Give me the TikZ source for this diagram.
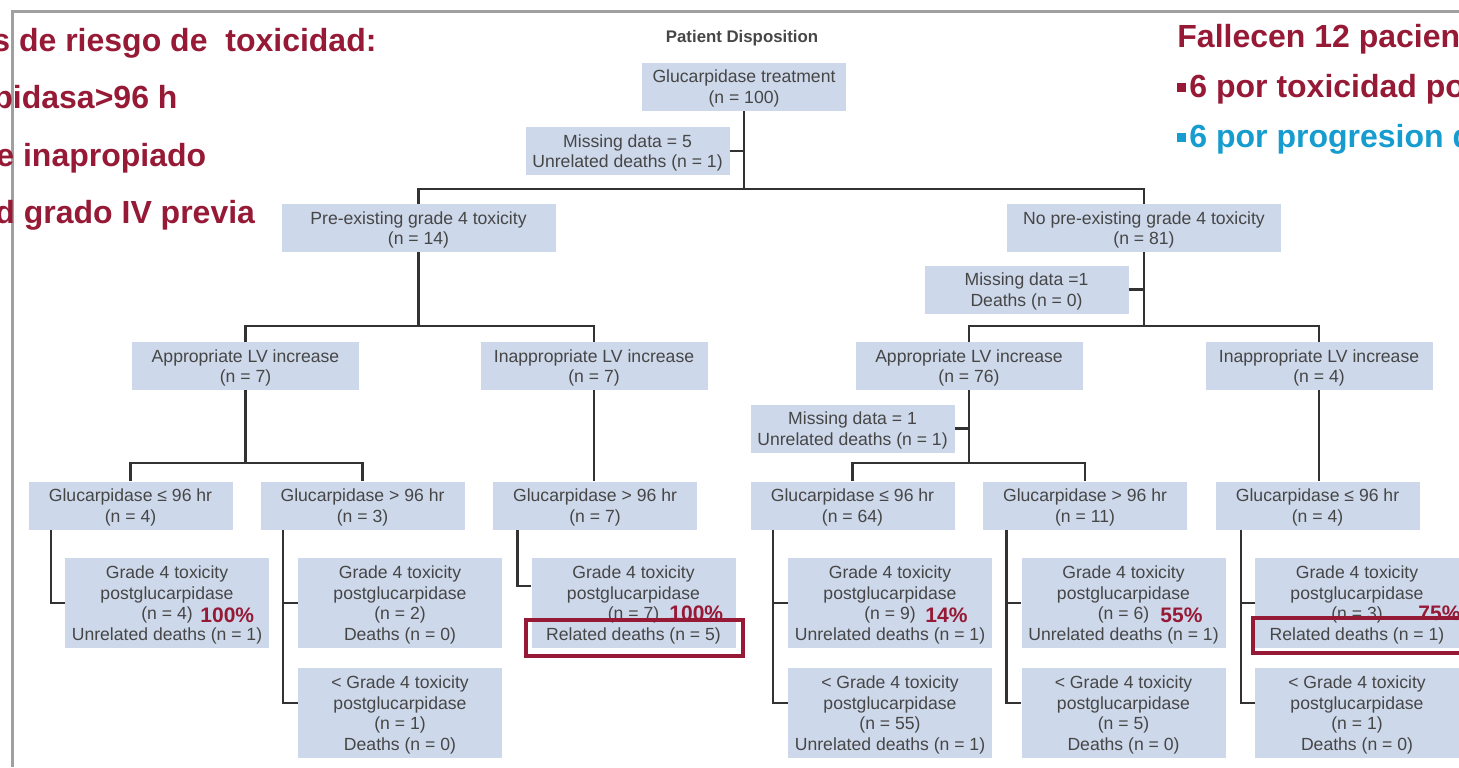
\documentclass[tikz,border=0pt]{standalone}
\usepackage{fontspec}
\setmainfont{Liberation Sans}
\usetikzlibrary{positioning,calc}

\definecolor{boxblue}{RGB}{205,216,234}
\definecolor{boxtext}{RGB}{70,70,70}
\definecolor{linegray}{RGB}{50,50,50}
\definecolor{framegray}{RGB}{160,160,160}
\definecolor{redtxt}{RGB}{150,26,54}
\definecolor{bluetxt}{RGB}{22,156,206}

\newcommand{\sqbullet}[1]{{\color{#1}\rule[2.5pt]{4.5pt}{4.5pt}}\hspace{1.5pt}}

\begin{document}
\begin{tikzpicture}[x=0.5pt,y=-0.5pt,
  box/.style={fill=boxblue,text=boxtext,inner sep=0pt,align=center,text depth=-2pt,
    minimum width=102pt,minimum height=24pt,font=\fontsize{8.8}{10.3}\selectfont},
  wide/.style={box,minimum width=137pt},
  mid/.style={box,minimum width=113.5pt},
  tall/.style={box,minimum height=45pt},
  conn/.style={draw=linegray,line width=1.3pt},
  big/.style={anchor=base west,inner sep=0pt,font=\bfseries\fontsize{16}{19}\selectfont},
  pct/.style={anchor=base west,inner sep=0pt,text=redtxt,font=\bfseries\fontsize{10.5}{12}\selectfont},
  redbox/.style={draw=redtxt,line width=2pt}]
  \useasboundingbox (0,0) rectangle (1459,767);
  \clip (0,0) rectangle (1459,767);
  % frame
  \draw[framegray,line width=1.5pt] (12,767) -- (12,11) -- (1459,11);
  % slide texts
  \node[big,text=redtxt] (riskA) at (-8,51) {s de riesgo de\ \ toxicidad:};
  \node[big,text=redtxt] (riskB) at (-7,108) {pidasa>96 h};
  \node[big,text=redtxt] (riskC) at (-4,166) {e inapropiado};
  \node[big,text=redtxt] (riskD) at (-5,223) {d grado IV previa};
  \node[big,text=redtxt] (deadA) at (1177,47) {Fallecen 12 pacien};
  \node[big,text=redtxt] (deadB) at (1177,97) {\sqbullet{redtxt}6 por toxicidad po};
  \node[big,text=bluetxt] (deadC) at (1177,147) {\sqbullet{bluetxt}6 por progresion d};

  \node[text=boxtext,font=\bfseries\fontsize{8.4}{10}\selectfont] (title) at (742,38) {Patient Disposition};
  \node[box] (treat) at (744,86.5) {Glucarpidase treatment\\(n = 100)};
  \node[box] (miss) at (627.5,151) {Missing data = 5\\Unrelated deaths (n = 1)};
  \node[wide] (pre) at (418.5,228) {Pre-existing grade 4 toxicity\\(n = 14)};
  \node[wide] (nopre) at (1144,228) {No pre-existing grade 4 toxicity\\(n = 81)};
  \node[box] (missb) at (1026.5,289.5) {Missing data =1\\Deaths (n = 0)};
  \node[mid] (apA) at (245.5,366) {Appropriate LV increase\\(n = 7)};
  \node[mid] (inA) at (594,366) {Inappropriate LV increase\\(n = 7)};
  \node[mid] (apB) at (969,366) {Appropriate LV increase\\(n = 76)};
  \node[mid] (inB) at (1319,366) {Inappropriate LV increase\\(n = 4)};
  \node[box] (missc) at (852.5,428.5) {Missing data = 1\\Unrelated deaths (n = 1)};

  \node[box] (gA1) at (130.5,505.5) {Glucarpidase ≤ 96 hr\\(n = 4)};
  \node[box] (gA2) at (362.5,505.5) {Glucarpidase > 96 hr\\(n = 3)};
  \node[box] (gA3) at (595,505.5) {Glucarpidase > 96 hr\\(n = 7)};
  \node[box] (gB1) at (852.5,505.5) {Glucarpidase ≤ 96 hr\\(n = 64)};
  \node[box] (gB2) at (1085,505.5) {Glucarpidase > 96 hr\\(n = 11)};
  \node[box] (gB3) at (1317.5,505.5) {Glucarpidase ≤ 96 hr\\(n = 4)};

  \node[tall] (rA1) at (167,603) {Grade 4 toxicity\\postglucarpidase\\(n = 4)\\Unrelated deaths (n = 1)};
  \node[tall] (rA2) at (400,603) {Grade 4 toxicity\\postglucarpidase\\(n = 2)\\Deaths (n = 0)};
  \node[tall] (rA3) at (400,713) {< Grade 4 toxicity\\postglucarpidase\\(n = 1)\\Deaths (n = 0)};
  \node[tall] (rA4) at (633.5,603) {Grade 4 toxicity\\postglucarpidase\\(n = 7)\\Related deaths (n = 5)};
  \node[tall] (rB1) at (890,603) {Grade 4 toxicity\\postglucarpidase\\(n = 9)\\Unrelated deaths (n = 1)};
  \node[tall] (rB2) at (890,713) {< Grade 4 toxicity\\postglucarpidase\\(n = 55)\\Unrelated deaths (n = 1)};
  \node[tall] (rB3) at (1123.5,603) {Grade 4 toxicity\\postglucarpidase\\(n = 6)\\Unrelated deaths (n = 1)};
  \node[tall] (rB4) at (1123.5,713) {< Grade 4 toxicity\\postglucarpidase\\(n = 5)\\Deaths (n = 0)};
  \node[tall] (rB5) at (1357,603) {Grade 4 toxicity\\postglucarpidase\\(n = 3)\\Related deaths (n = 1)};
  \node[tall] (rB6) at (1357,713) {< Grade 4 toxicity\\postglucarpidase\\(n = 1)\\Deaths (n = 0)};

  % tree lines
  \coordinate (j1) at (744,189);
  \draw[conn] (treat.south) -- (j1);
  \draw[conn] (miss.east) -- (miss.east -| treat.south);
  \draw[conn] (pre.north) |- (j1) -| (nopre.north);
  \coordinate (j2) at (418.5,326);
  \draw[conn] (pre.south) -- (j2);
  \draw[conn] (apA.north) |- (j2) -| (inA.north);
  \coordinate (j3) at (1144,326);
  \draw[conn] (nopre.south) -- (j3);
  \draw[conn] (missb.east) -- (missb.east -| nopre.south);
  \draw[conn] (apB.north) |- (j3) -| (inB.north);
  \coordinate (j4) at (245.5,463);
  \draw[conn] (apA.south) -- (j4);
  \draw[conn] (gA1.north) |- (j4) -| (gA2.north);
  \draw[conn] (inA.south) -- (inA.south |- gA3.north);
  \coordinate (j5) at (969,463);
  \draw[conn] (apB.south) -- (j5);
  \draw[conn] (missc.east) -- (missc.east -| apB.south);
  \draw[conn] (gB1.north) |- (j5) -| (gB2.north);
  \draw[conn] (inB.south) -- (inB.south |- gB3.north);

  \coordinate (sA1) at ($(gA1.south west)+(23,0)$);
  \coordinate (sA2) at ($(gA2.south west)+(23,0)$);
  \coordinate (sA3) at ($(gA3.south west)+(25,0)$);
  \coordinate (sB1) at ($(gB1.south west)+(23,0)$);
  \coordinate (sB2) at ($(gB2.south west)+(24,0)$);
  \coordinate (sB3) at ($(gB3.south west)+(26,0)$);
  \draw[conn] (sA1) |- (rA1.west);
  \draw[conn] (sA2) |- ($(rA3.west)+(0,-10)$);
  \draw[conn] (rA2.west) -- (rA2.west -| sA2);
  \draw[conn] (sA3) |- ($(rA4.west)+(0,-17)$);
  \draw[conn] (sB1) |- ($(rB2.west)+(0,-10)$);
  \draw[conn] (rB1.west) -- (rB1.west -| sB1);
  \draw[conn] (sB2) |- ($(rB4.west)+(0,-10)$);
  \draw[conn] (rB3.west) -- (rB3.west -| sB2);
  \draw[conn] (sB3) |- ($(rB6.west)+(0,-10)$);
  \draw[conn] (rB5.west) -- (rB5.west -| sB3);

  % highlights
  \node[pct] (pA1) at (200,622) {100\%};
  \node[pct] (pA4) at (669,620) {100\%};
  \node[pct] (pB1) at (925,622) {14\%};
  \node[pct] (pB3) at (1160,622) {55\%};
  \node[pct] (pB5) at (1418,620) {75\%};
  \draw[redbox] (526,620) rectangle (743,656);
  \draw[redbox] (1253,618) rectangle (1475,653);
\end{tikzpicture}
\end{document}
